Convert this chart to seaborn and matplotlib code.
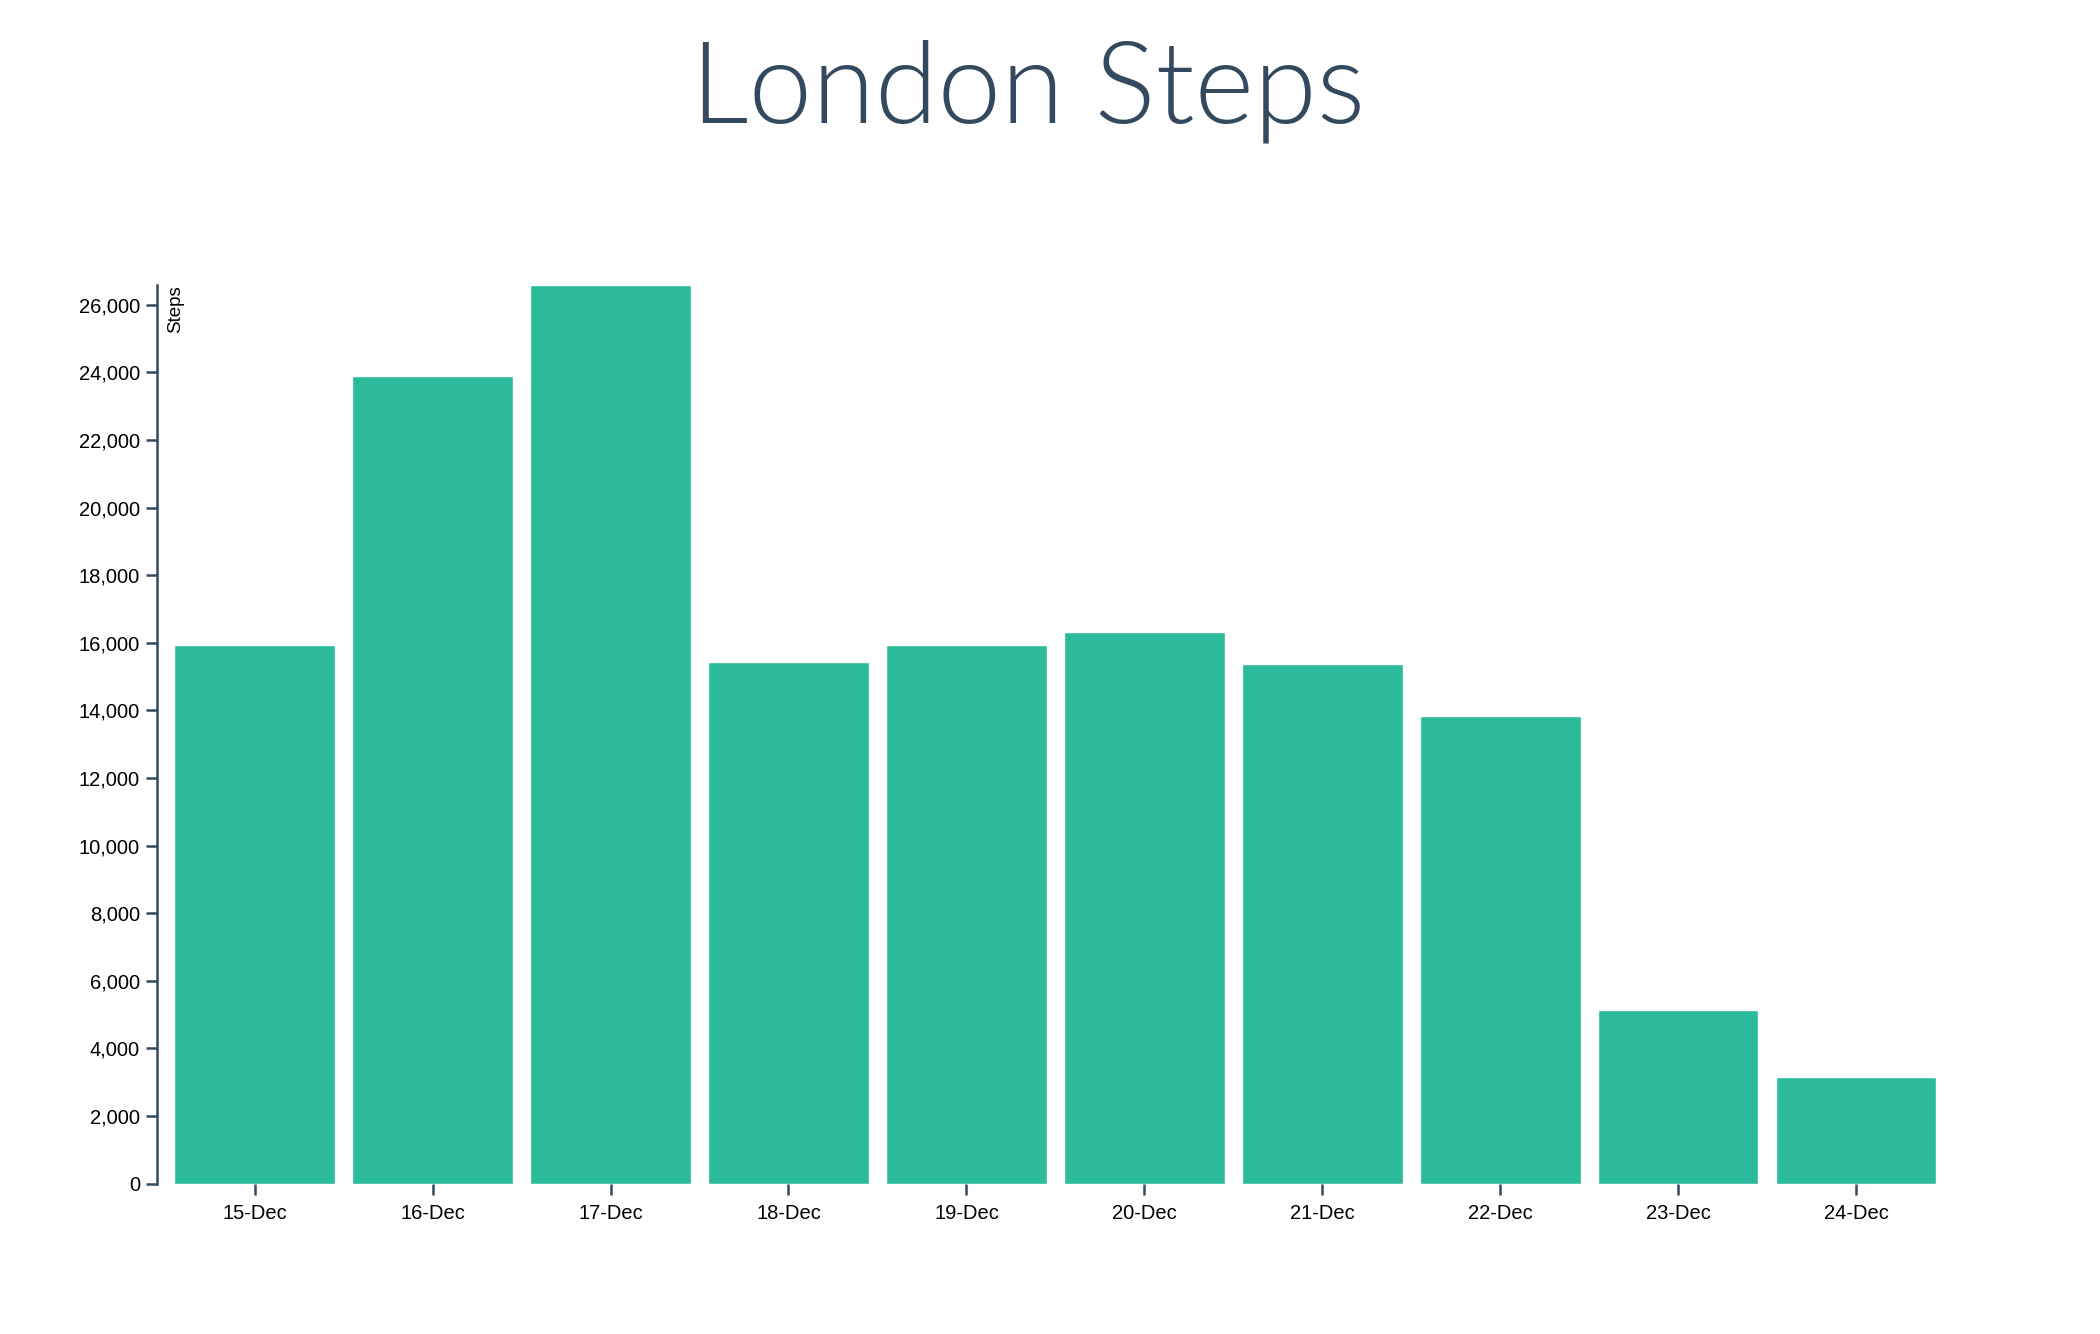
import matplotlib
matplotlib.use("Agg")
import matplotlib.pyplot as plt
import matplotlib.ticker as mticker
import pandas as pd
import seaborn as sns

# data
days = ['15-Dec', '16-Dec', '17-Dec', '18-Dec', '19-Dec',
        '20-Dec', '21-Dec', '22-Dec', '23-Dec', '24-Dec']
steps = [15930, 23900, 26590, 15420, 15930, 16330, 15380, 13830, 5150, 3170]
yticks = list(range(0, 26001, 2000))

df = pd.DataFrame({'day': days, 'steps': steps})

sns.set_style('white')
plt.rcParams['font.family'] = ['Liberation Sans', 'DejaVu Sans']

dark = '#34495e'
fig = plt.figure(figsize=(21, 13.34), dpi=100)
ax = fig.add_axes([0.0746, 0.1127, 0.856, 0.6737])

sns.barplot(data=df, x='day', y='steps', color='#2bbb9b', saturation=1,
            width=0.9, ax=ax)

ax.set_xlim(-0.55, len(days) - 0.45)
ax.set_ylim(0, max(steps))
ax.set_yticks(yticks)
ax.yaxis.set_major_formatter(mticker.FuncFormatter(lambda v, p: f'{int(v):,}'))

for s in ['top', 'right', 'bottom']:
    ax.spines[s].set_visible(False)
ax.spines['left'].set_color(dark)
ax.spines['left'].set_linewidth(1.8)
ax.tick_params(axis='both', direction='out', length=8, width=1.8, color=dark,
               labelsize=14.5, labelcolor='black')
ax.tick_params(axis='y', left=True, pad=4)
ax.tick_params(axis='x', bottom=True, pad=7)
ax.set_xlabel('')
ax.set_ylabel('')

ax.text(0.0104, 1.0, 'Steps', transform=ax.transAxes, rotation=90,
        ha='center', va='top', fontsize=13.5, color='black')

# title in Lato Light (weight 300)
fig.text(0.4895, 0.908, 'London Steps', ha='center', va='baseline',
         fontsize=82, color=dark, family=['Lato', 'DejaVu Sans'],
         fontweight=300)

fig.savefig('out.png', dpi=100, facecolor='white')
